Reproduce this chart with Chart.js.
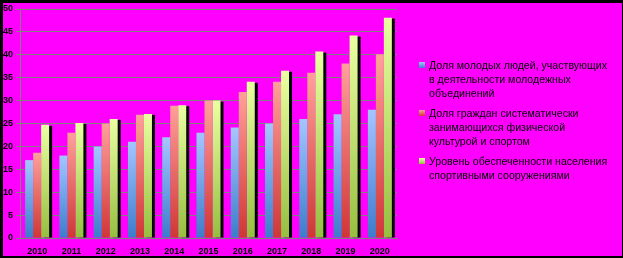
<!DOCTYPE html>
<html>
<head>
<meta charset="utf-8">
<script src="https://cdn.jsdelivr.net/npm/chart.js@4/dist/chart.umd.min.js"></script>
<style>
  html, body { margin: 0; padding: 0; background: #000; }
  #wrap { position: relative; width: 623px; height: 258px; }
  #chart { position: absolute; left: 0; top: 0; }
  #legend { position: absolute; left: 419px; top: 58px; font-family: "Liberation Sans", Arial, sans-serif; font-size: 10.6px; color: #000; }
  #legend .item { position: relative; padding-left: 10px; line-height: 14px; white-space: pre; margin-bottom: 6px; }
  #legend .sw { position: absolute; left: 0; top: 4px; width: 6px; height: 6px; }
</style>
</head>
<body>
<div id="wrap">
  <canvas id="chart" width="623" height="258"></canvas>
  <div id="legend"></div>
</div>
<script>
// данные с картинки
const years = ["2010", "2011", "2012", "2013", "2014", "2015", "2016", "2017", "2018", "2019", "2020"];
const youthShare = [17, 18, 20, 21, 22, 23, 24.1, 25, 26, 27, 28];
const sportShare = [18.6, 23, 25, 26.9, 28.9, 30, 31.9, 34.1, 36.1, 38.1, 40.1];
const facilities = [24.7, 25.1, 26, 27.1, 29, 30, 34.1, 36.5, 40.7, 44.2, 48.1];
const seriesNames = [
  "Доля молодых людей, участвующих\nв деятельности молодежных\nобъединений",
  "Доля граждан систематически\nзанимающихся физической\nкультурой и спортом",
  "Уровень обеспеченности населения\nспортивными сооружениями",
];
const yTicks = { min: 0, max: 50, step: 5 };

// градиенты: верх / низ
const GRAD = [["#a4c6ff", "#3c7cca"], ["#ffa09a", "#cf3636"], ["#eaffa2", "#96be40"]];

function barFill(i) {
  return ctx => {
    const chart = ctx.chart;
    if (!chart.chartArea || ctx.raw == null) return GRAD[i][1];
    const y = chart.scales.y;
    const g = chart.ctx.createLinearGradient(0, y.getPixelForValue(ctx.raw), 0, y.getPixelForValue(0));
    g.addColorStop(0, GRAD[i][0]);
    g.addColorStop(1, GRAD[i][1]);
    return g;
  };
}

const frame = {
  id: "frame",
  beforeDraw(chart) {
    const c = chart.ctx;
    c.save();
    c.fillStyle = "#000";
    c.fillRect(0, 0, chart.width, chart.height);
    c.fillStyle = "#ff00ff";
    c.fillRect(3, 3, chart.width - 4, chart.height - 5);
    c.restore();
  },
  // тень справа от последнего столбца группы
  beforeDatasetsDraw(chart) {
    const c = chart.ctx;
    const meta = chart.getDatasetMeta(chart.data.datasets.length - 1);
    c.save();
    c.fillStyle = "#000";
    meta.data.forEach(b => {
      const p = b.getProps(["x", "y", "width", "base"], true);
      c.fillRect(p.x - p.width / 2 + 3, p.y + 1, p.width, p.base - p.y - 1);
    });
    c.restore();
  },
};

const tickFont = { family: "'Liberation Sans Narrow', 'Liberation Sans', Arial, sans-serif", size: 9, weight: "bold" };

new Chart(document.getElementById("chart"), {
  type: "bar",
  data: {
    labels: years,
    datasets: [youthShare, sportShare, facilities].map((d, i) => ({
      label: seriesNames[i], data: d, backgroundColor: barFill(i), borderWidth: 0,
    })),
  },
  options: {
    responsive: false,
    animation: false,
    events: [],
    layout: { padding: { left: 0, right: 226, top: 9, bottom: 0 } },
    datasets: { bar: { categoryPercentage: 0.7, barPercentage: 1.0 } },
    plugins: { legend: { display: false }, tooltip: { enabled: false } },
    scales: {
      x: {
        z: 1,
        grid: { display: false, drawTicks: false },
        border: { display: true, color: "#808080", width: 1 },
        ticks: { color: "#000", font: tickFont, padding: 8, maxRotation: 0 },
        afterFit: s => { s.height = 20; },
      },
      y: {
        min: yTicks.min, max: yTicks.max,
        grid: { color: "#808080", lineWidth: 1, tickLength: 4, drawTicks: true },
        border: { display: true, color: "#808080", width: 1 },
        ticks: { stepSize: yTicks.step, color: "#000", font: tickFont, padding: 3 },
        afterFit: s => { s.width = 20; },
      },
    },
  },
  plugins: [frame],
});

document.getElementById("legend").innerHTML = seriesNames.map((n, i) =>
  '<div class="item"><span class="sw" style="background:linear-gradient(' + GRAD[i][0] + ',' + GRAD[i][1] + ')"></span>' + n + '</div>'
).join("");
</script>
</body>
</html>
